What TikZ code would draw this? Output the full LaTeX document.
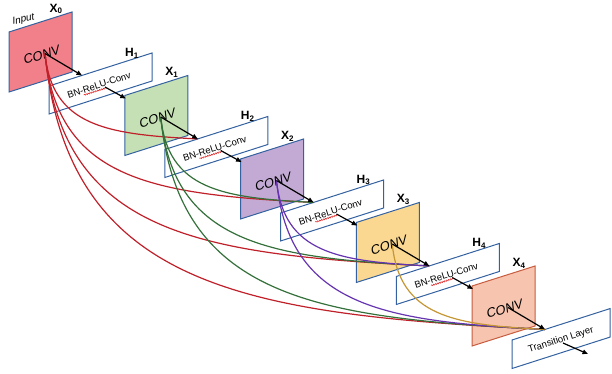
\documentclass[tikz,border=0pt]{standalone}
\usepackage{fontspec}
\setmainfont{Liberation Sans}
\newfontfamily\obliquesans{Liberation Sans}[FakeSlant=0.21]
\usetikzlibrary{arrows.meta,decorations.pathmorphing}

\definecolor{edgeblue}{RGB}{52,98,160}
\definecolor{mapA}{RGB}{241,128,138}
\definecolor{mapB}{RGB}{197,224,180}
\definecolor{mapC}{RGB}{195,170,213}
\definecolor{mapD}{RGB}{250,216,145}
\definecolor{mapE}{RGB}{246,196,175}
\definecolor{edgeE}{RGB}{200,92,62}
\definecolor{densered}{RGB}{192,32,42}
\definecolor{densegreen}{RGB}{52,112,58}
\definecolor{densepurple}{RGB}{102,52,176}
\definecolor{densegold}{RGB}{196,150,52}
\definecolor{spellred}{RGB}{225,30,30}

% text set along the slope of the layer boxes
\newcommand\alongslope[1]{\rotatebox{17.7}{#1}}

\begin{document}
\begin{tikzpicture}[x=1pt,y=-1pt,
  mapshape/.style={line width=1pt, line join=miter},
  hbox/.style={draw=edgeblue, fill=white, line width=1pt},
  convtext/.style={font=\fontsize{13}{15}\selectfont\obliquesans, inner sep=0pt},
  htext/.style={font=\fontsize{9.5}{11}\selectfont, inner sep=0pt},
  tagtext/.style={font=\fontsize{12}{14}\selectfont\bfseries, inner sep=0pt},
  dense/.style={line width=1.2pt},
  flow/.style={line width=1.2pt, -{Triangle[length=5.5pt,width=4.5pt]}},
  squig/.style={draw=spellred, line width=0.5pt, decorate,
    decoration={snake, amplitude=0.6pt, segment length=2pt}},
]
\useasboundingbox (0,0) rectangle (612,373);

% feature maps X0..X4
\foreach \i/\fc/\ec in {0/mapA/edgeblue,1/mapB/edgeblue,2/mapC/edgeblue,3/mapD/edgeblue,4/mapE/edgeE}{
  \pgfmathsetmacro\ax{9+115.75*\i}
  \pgfmathsetmacro\ay{32+63.5*\i}
  \coordinate (x\i) at (\ax,\ay);
  \coordinate (p\i) at (\ax+36,\ay+21.5);
  \coordinate (s\i) at (\ax+1,\ay+3);
  \draw[mapshape, fill=\fc, draw=\ec] (x\i) -- ++(63,-20) -- ++(0,60) -- ++(-63,20) -- cycle;
  \node[convtext] (conv\i) at (\ax+32,\ay+23) {\alongslope{CONV}};
  \node[tagtext] (xlab\i) at (\ax+47,\ay-23) {X\textsubscript{\i}};
}

% composite functions H1..H4
\foreach \j in {1,...,4}{
  \pgfmathsetmacro\hx{49+115.75*(\j-1)}
  \pgfmathsetmacro\hy{86+63.5*(\j-1)}
  \coordinate (h\j) at (\hx,\hy);
  \coordinate (a\j) at (\hx+33,\hy-10.56);
  \coordinate (r\j) at (\hx+56,\hy+1);
  \draw[hbox] (h\j) -- ++(103,-33) -- ++(0,28) -- ++(-103,33) -- cycle;
  \node[htext] (t\j) at (\hx+50,\hy-1) {\alongslope{BN-ReLU-Conv}};
  \draw[squig] ([shift={(-15.15,10.08)}]t\j.center) -- ([shift={(7.24,2.94)}]t\j.center);
  \node[tagtext] (hlab\j) at (\hx+83,\hy-33) {H\textsubscript{\j}};
}

% transition layer
\coordinate (h5) at (512,340);
\coordinate (a5) at (545,329.44);
\coordinate (r5) at (563,343);
\coordinate (tout) at (588,354);
\draw[hbox] (h5) -- ++(98,-31.4) -- ++(0,28.5) -- ++(-98,31.4) -- cycle;
\node[htext] (trans) at (561,340) {\alongslope{Transition Layer}};

\node[font=\fontsize{10}{12}\selectfont\obliquesans, inner sep=0pt] (input) at (23,20) {\rotatebox{12}{Input}};

% dense connections from every map to all later composite functions
\foreach \i/\col in {0/densered,1/densegreen,2/densepurple,3/densegold}{
  \pgfmathtruncatemacro\first{\i+2}
  \foreach \j in {\first,...,5}{
    \pgfmathsetmacro\dx{37+115.75*(\j-1-\i)}
    \pgfmathsetmacro\dy{21.94+63.5*(\j-1-\i)}
    \draw[dense, draw=\col] (p\i) .. controls +(0.085*\dy,0.85*\dy) and +(-0.6*\dx,-0.03*\dx) .. (a\j);
  }
}

% main forward path
\foreach \i in {0,...,4}{
  \pgfmathtruncatemacro\nx{\i+1}
  \draw[flow] (p\i) -- (a\nx);
}
\foreach \j in {1,...,4}{
  \draw[flow] (r\j) -- (s\j);
}
\draw[flow] (r5) -- (tout);
\end{tikzpicture}
\end{document}
